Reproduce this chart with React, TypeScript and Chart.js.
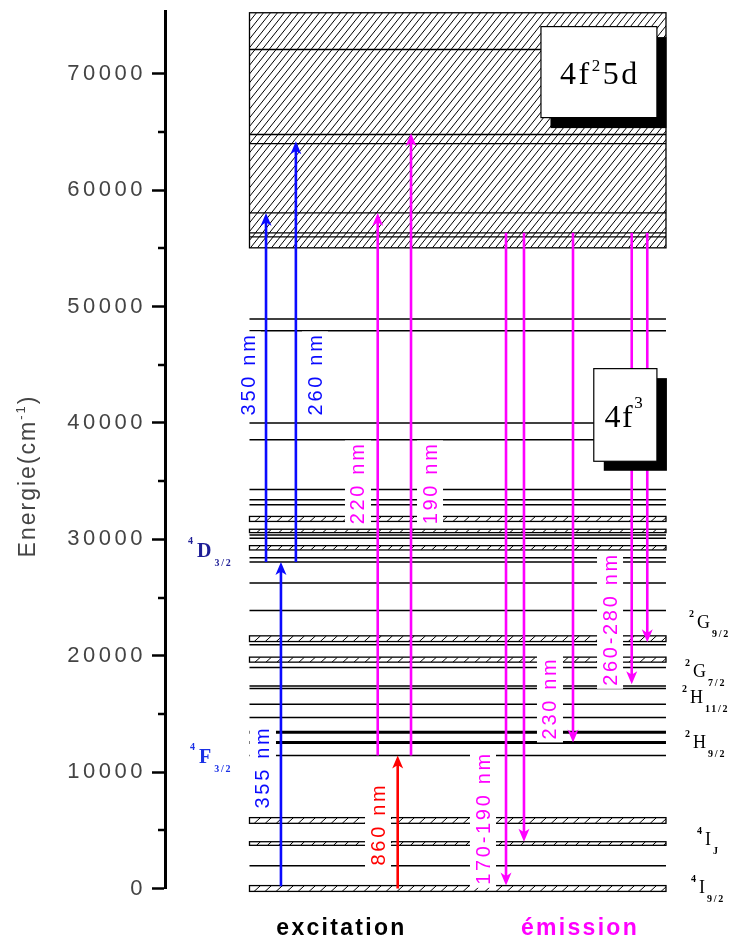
import React, { useEffect, useRef } from 'react';
import { Chart, registerables } from 'chart.js';

Chart.register(...registerables);

// ---------------- DATA (energies in cm-1) ----------------
const yMajorTicks = [0, 10000, 20000, 30000, 40000, 50000, 60000, 70000];
const yMinorTicks = [5000, 15000, 25000, 35000, 45000, 55000, 65000];

// 4f2 5d configuration (hatched continuum)
const config5dTop = 75250;
const config5dBottom = 55050;
const config5dLevels = [72090, 64790, 64010, 58050, 56340, 55990];

// 4f3 configuration levels
const singleLevels = [
  48940, 47930, 40000, 38560, 34290, 33400, 32970, 30380, 30100, 28430, 28050,
  26240, 23890, 20940, 18990, 17410, 17180, 15840, 14690, 11420, 1960,
];
const strongLevels = [13430, 12540];
const bandUpper = [31970, 30870, 29460, 21710, 19880, 6090, 4020, 250];
const bandLower = [31540, 30580, 29090, 21220, 19450, 5600, 3710, -250];

// transitions (arrows)
const arrowStart = [28050, 28050, 200, 11420, 0, 11420, 56340, 56340, 56340, 56340, 56340];
const arrowEnd = [58050, 64200, 28050, 58050, 11420, 64900, 250, 4020, 12540, 17550, 21150];

// transition labels
const transitionLabels = ['350 nm', '260 nm', '220 nm', '190 nm', '355 nm', '860 nm', '170-190 nm', '230 nm', '260-280 nm'];

// term symbols
const termSup = ['4', '4', '2', '2', '2', '2', '4', '4'];
const termMain = ['D', 'F', 'G', 'G', 'H', 'H', 'I', 'I'];
const termSub = ['3/2', '3/2', '9/2', '7/2', '11/2', '9/2', 'J', '9/2'];

const groupLabels = ['excitation', 'émission'];
const axisTitleMain = 'Energie(cm';
const axisTitleSup = '-1';
const axisTitleEnd = ')';

// ---------------- LAYOUT / STYLE ----------------
const W = 739;
const H = 941;
const Y_MAX = 75400;
const BLUE = '#0a0aff';
const MAG = '#ff00ff';
const RED = '#ff0000';
const levelX0 = 14.72;
const levelX1 = 87.28;
const arrowX = [17.6, 22.8, 20.2, 37.06, 40.54, 42.86, 59.41, 62.54, 71.08, 81.31, 84.02];
const arrowColor = [BLUE, BLUE, BLUE, MAG, RED, MAG, MAG, MAG, MAG, MAG, MAG];
const tLabelX = [14.46, 26.13, 33.62, 46.17, 17.07, 37.11, 55.4, 67.07, 77.53];
const tLabelE = [44215, 44215, 34850, 34850, 10440, 5540, 6060, 16370, 23160];
const tLabelColor = [BLUE, BLUE, MAG, MAG, BLUE, RED, MAG, MAG, MAG];
const termX = [5.575, 5.92, 92.68, 91.99, 91.46, 91.99, 94.08, 93.03];
const termE = [28490, 10785, 22387, 18176, 15942, 12075, 3738, -387];
const termColor = ['#1e1e96', '#1a30e6', '#000', '#000', '#000', '#000', '#000', '#000'];
const box5d = { x0: 65.5, x1: 85.7, e0: 74060, e1: 66240, sx: 9.5, sy: 10.5 };
const box4f3 = { x0: 74.7, x1: 85.7, e0: 44670, e1: 36710, sx: 10, sy: 9.5 };
const groupX = [30.75, 72.3];
const groupColor = ['#000', MAG];

function hatch(ctx: CanvasRenderingContext2D, x0: number, y0: number, x1: number, y1: number, spacing: number, slope: number, lw: number) {
  ctx.save();
  ctx.beginPath();
  ctx.rect(x0, y0, x1 - x0, y1 - y0);
  ctx.clip();
  ctx.strokeStyle = '#000';
  ctx.lineWidth = lw;
  const h = y1 - y0;
  ctx.beginPath();
  for (let x = x0 - h * slope - spacing; x < x1 + spacing; x += spacing) {
    ctx.moveTo(x, y1);
    ctx.lineTo(x + h * slope, y0);
  }
  ctx.stroke();
  ctx.restore();
}

function hline(ctx: CanvasRenderingContext2D, x0: number, x1: number, y: number, lw: number) {
  ctx.strokeStyle = '#000';
  ctx.lineWidth = lw;
  ctx.beginPath();
  ctx.moveTo(x0, y);
  ctx.lineTo(x1, y);
  ctx.stroke();
}

function arrow(ctx: CanvasRenderingContext2D, x: number, yFrom: number, yTo: number, color: string) {
  const dir = yTo < yFrom ? -1 : 1;
  const headLen = 13;
  const headW = 5.5;
  ctx.strokeStyle = color;
  ctx.fillStyle = color;
  ctx.lineWidth = 2.6;
  ctx.beginPath();
  ctx.moveTo(x, yFrom);
  ctx.lineTo(x, yTo - dir * headLen * 0.6);
  ctx.stroke();
  ctx.beginPath();
  ctx.moveTo(x, yTo);
  ctx.lineTo(x - headW, yTo - dir * headLen);
  ctx.lineTo(x - 1.5, yTo - dir * headLen * 0.8);
  ctx.lineTo(x + 1.5, yTo - dir * headLen * 0.8);
  ctx.lineTo(x + headW, yTo - dir * headLen);
  ctx.closePath();
  ctx.fill();
}

function vlabel(ctx: CanvasRenderingContext2D, text: string, cx: number, cy: number, color: string) {
  ctx.save();
  ctx.translate(cx, cy);
  ctx.rotate(-Math.PI / 2);
  ctx.font = '20px "Liberation Sans", Arial, sans-serif';
  (ctx as any).letterSpacing = '2.7px';
  const w = ctx.measureText(text).width;
  ctx.fillStyle = '#fff';
  ctx.fillRect(-w / 2 - 3, -13, w + 4, 26);
  ctx.fillStyle = color;
  ctx.textAlign = 'left';
  ctx.textBaseline = 'middle';
  ctx.fillText(text, -w / 2, 1);
  ctx.restore();
}

function term(ctx: CanvasRenderingContext2D, x: number, yb: number, sup: string, main: string, sub: string, color: string, bold: boolean) {
  ctx.save();
  ctx.fillStyle = color;
  ctx.textBaseline = 'alphabetic';
  const mainFont = bold ? 'bold 20px "Liberation Serif", serif' : '18px "Liberation Serif", serif';
  ctx.font = 'bold 10px "Liberation Serif", serif';
  (ctx as any).letterSpacing = '0px';
  const sw = ctx.measureText(sup).width;
  ctx.textAlign = 'left';
  ctx.fillText(sup, x - sw - (bold ? 4 : 3), yb - (bold ? 13 : 11));
  ctx.font = mainFont;
  const mw = ctx.measureText(main).width;
  ctx.fillText(main, x, yb);
  ctx.font = 'bold 10px "Liberation Serif", serif';
  (ctx as any).letterSpacing = '1.8px';
  ctx.fillText(sub, x + mw + (bold ? 3 : 2), yb + 9);
  ctx.restore();
}

function configBox(ctx: CanvasRenderingContext2D, x0: number, y0: number, x1: number, y1: number, sx: number, sy: number) {
  ctx.fillStyle = '#000';
  ctx.fillRect(x0 + sx, y0 + sy, x1 - x0, y1 - y0);
  ctx.fillStyle = '#fff';
  ctx.fillRect(x0, y0, x1 - x0, y1 - y0);
  ctx.strokeStyle = '#000';
  ctx.lineWidth = 1.2;
  ctx.strokeRect(x0, y0, x1 - x0, y1 - y0);
}

function drawParts(ctx: CanvasRenderingContext2D, parts: { t: string; f: string; dy: number }[], cx: number, yb: number, spacing: string) {
  ctx.save();
  (ctx as any).letterSpacing = spacing;
  ctx.textBaseline = 'alphabetic';
  ctx.textAlign = 'left';
  let total = 0;
  const widths = parts.map((p) => {
    ctx.font = p.f;
    const w = ctx.measureText(p.t).width;
    total += w;
    return w;
  });
  let x = cx - total / 2;
  ctx.fillStyle = '#000';
  parts.forEach((p, i) => {
    ctx.font = p.f;
    ctx.fillText(p.t, x, yb + p.dy);
    x += widths[i];
  });
  ctx.restore();
}

const diagramPlugin = {
  id: 'diagram',
  beforeDraw(chart: any) {
    (chart.ctx as any).letterSpacing = '3.5px';
  },
  beforeDatasetsDraw(chart: any) {
    (chart.ctx as any).letterSpacing = '0px';
  },
  afterDraw(chart: any) {
    const ctx: CanvasRenderingContext2D = chart.ctx;
    const xs = chart.scales.x;
    const ys = chart.scales.y;
    const X = (u: number) => xs.getPixelForValue(u);
    const Y = (e: number) => ys.getPixelForValue(e);
    const lx0 = X(levelX0);
    const lx1 = X(levelX1);
    ctx.save();
    (ctx as any).letterSpacing = '0px';

    // minor ticks
    ctx.strokeStyle = '#000';
    ctx.lineWidth = 2.5;
    yMinorTicks.forEach((v) => {
      const y = Math.round(Y(v));
      ctx.beginPath();
      ctx.moveTo(chart.chartArea.left - 7, y);
      ctx.lineTo(chart.chartArea.left, y);
      ctx.stroke();
    });

    // 4f2 5d continuum
    const t5 = Y(config5dTop);
    const b5 = Y(config5dBottom);
    ctx.fillStyle = '#fff';
    ctx.fillRect(lx0, t5, lx1 - lx0, b5 - t5);
    hatch(ctx, lx0, t5, lx1, b5, 7, 0.8, 1);
    ctx.lineWidth = 1.3;
    ctx.strokeRect(lx0, t5, lx1 - lx0, b5 - t5);
    config5dLevels.forEach((e) => hline(ctx, lx0, lx1, Y(e), 1.3));

    // 4f3 levels
    singleLevels.forEach((e) => hline(ctx, lx0, lx1, Y(e), 1.5));
    strongLevels.forEach((e) => hline(ctx, lx0, lx1, Y(e), 3));
    bandUpper.forEach((e, i) => {
      const yt = Y(e);
      const yb = Y(bandLower[i]);
      ctx.fillStyle = '#fff';
      ctx.fillRect(lx0, yt, lx1 - lx0, yb - yt);
      hatch(ctx, lx0, yt, lx1, yb, 11, 1.1, 1);
      ctx.strokeStyle = '#000';
      ctx.lineWidth = 1.3;
      ctx.strokeRect(lx0, yt, lx1 - lx0, yb - yt);
    });

    // transition labels (with white backgrounds)
    transitionLabels.forEach((t, i) => vlabel(ctx, t, X(tLabelX[i]), Y(tLabelE[i]), tLabelColor[i]));

    // arrows
    arrowStart.forEach((s, i) => arrow(ctx, X(arrowX[i]), Y(s), Y(arrowEnd[i]), arrowColor[i]));

    // configuration boxes
    const b1 = box5d;
    configBox(ctx, X(b1.x0), Y(b1.e0), X(b1.x1), Y(b1.e1), b1.sx, b1.sy);
    drawParts(ctx, [
      { t: '4f', f: '32px "Liberation Serif", serif', dy: 0 },
      { t: '2', f: '17px "Liberation Serif", serif', dy: -13 },
      { t: '5d', f: '32px "Liberation Serif", serif', dy: 0 },
    ], (X(b1.x0) + X(b1.x1)) / 2 + 1, (Y(b1.e0) + Y(b1.e1)) / 2 + 12, '2.5px');
    const b2 = box4f3;
    configBox(ctx, X(b2.x0), Y(b2.e0), X(b2.x1), Y(b2.e1), b2.sx, b2.sy);
    drawParts(ctx, [
      { t: '4f', f: '32px "Liberation Serif", serif', dy: 0 },
      { t: '3', f: '17px "Liberation Serif", serif', dy: -19 },
    ], (X(b2.x0) + X(b2.x1)) / 2 - 1, (Y(b2.e0) + Y(b2.e1)) / 2 + 12, '1.5px');

    // term symbols
    termMain.forEach((m, i) => term(ctx, X(termX[i]), Y(termE[i]), termSup[i], m, termSub[i], termColor[i], i < 2));

    // group labels
    ctx.font = 'bold 23px "Liberation Sans", Arial, sans-serif';
    (ctx as any).letterSpacing = '2.3px';
    ctx.textAlign = 'center';
    ctx.textBaseline = 'alphabetic';
    groupLabels.forEach((g, i) => {
      ctx.fillStyle = groupColor[i];
      ctx.fillText(g, X(groupX[i]), chart.chartArea.bottom + 46.5);
    });

    // axis title
    ctx.save();
    ctx.translate(35, 476);
    ctx.rotate(-Math.PI / 2);
    ctx.fillStyle = '#444';
    ctx.textAlign = 'left';
    ctx.textBaseline = 'alphabetic';
    (ctx as any).letterSpacing = '2px';
    ctx.font = '23px "Liberation Sans", Arial, sans-serif';
    const w1 = ctx.measureText(axisTitleMain).width;
    ctx.font = '13px "Liberation Sans", Arial, sans-serif';
    const w2 = ctx.measureText(axisTitleSup).width;
    ctx.font = '23px "Liberation Sans", Arial, sans-serif';
    const w3 = ctx.measureText(axisTitleEnd).width;
    let tx = -(w1 + w2 + w3) / 2;
    ctx.fillText(axisTitleMain, tx, 0);
    tx += w1;
    ctx.font = '13px "Liberation Sans", Arial, sans-serif';
    ctx.fillText(axisTitleSup, tx, -10);
    tx += w2;
    ctx.font = '23px "Liberation Sans", Arial, sans-serif';
    ctx.fillText(axisTitleEnd, tx, 0);
    ctx.restore();

    ctx.restore();
  },
};

export default function App() {
  const ref = useRef<HTMLCanvasElement | null>(null);
  useEffect(() => {
    if (!ref.current) return;
    const chart = new Chart(ref.current, {
      type: 'scatter',
      data: { datasets: [] },
      options: {
        responsive: false,
        animation: false,
        devicePixelRatio: 1,
        layout: { padding: { left: 0, right: 0, top: 11, bottom: 52.5 } },
        plugins: { legend: { display: false }, tooltip: { enabled: false } },
        scales: {
          x: { type: 'linear', display: false, min: 0, max: 100 },
          y: {
            type: 'linear',
            min: 0,
            max: Y_MAX,
            afterBuildTicks: (s: any) => {
              s.ticks = yMajorTicks.map((v) => ({ value: v }));
            },
            afterFit: (s: any) => {
              s.width = 165;
              s.paddingTop = 0;
              s.paddingBottom = 0;
            },
            ticks: {
              padding: 6,
              color: '#444',
              font: { family: '"Liberation Sans", Arial, sans-serif', size: 22 },
              callback: (v: any) => String(v),
            },
            grid: {
              drawOnChartArea: false,
              drawTicks: true,
              tickLength: 13,
              tickWidth: 2.5,
              tickColor: '#000',
            },
            border: { display: true, color: '#000', width: 3 },
          },
        },
      },
      plugins: [diagramPlugin],
    } as any);
    return () => chart.destroy();
  }, []);
  return (
    <div style={{ position: 'absolute', left: 0, top: 0, width: W, height: H, background: '#fff' }}>
      <canvas ref={ref} width={W} height={H} style={{ display: 'block' }} />
    </div>
  );
}
